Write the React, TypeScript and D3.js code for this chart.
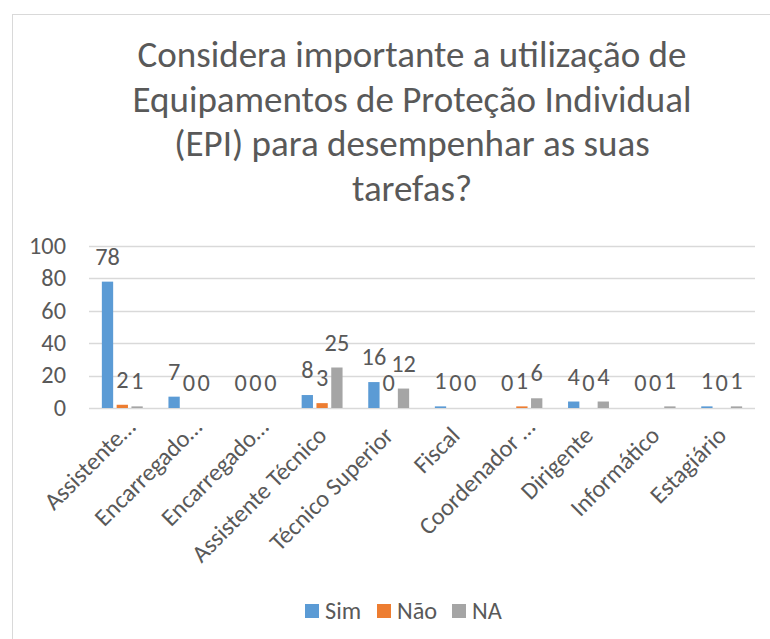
import React from "react";
import * as d3 from "d3";

const titleLines = [
  "Considera importante a utilização de",
  "Equipamentos de Proteção Individual",
  "(EPI) para desempenhar as suas",
  "tarefas?",
];
const categories = [
  "Assistente…",
  "Encarregado…",
  "Encarregado… ",
  "Assistente Técnico",
  "Técnico Superior",
  "Fiscal",
  "Coordenador …",
  "Dirigente",
  "Informático",
  "Estagiário",
];
const seriesNames = ["Sim", "Não", "NA"];
const simValues = [78, 7, 0, 8, 16, 1, 0, 4, 0, 1];
const naoValues = [2, 0, 0, 3, 0, 0, 1, 0, 0, 0];
const naValues = [1, 0, 0, 25, 12, 0, 6, 4, 1, 1];
const yTicks = [0, 20, 40, 60, 80, 100];
const colors = ["#5B9BD5", "#ED7D31", "#A5A5A5"];

const W = 770;
const H = 639;
const FONT = "Carlito, Calibri, Lato, sans-serif";
const TXT = "#595959";
const FS = 24.3;

export default function App() {
  const series = [simValues, naoValues, naValues];
  const x0 = d3.scaleBand<string>().domain(categories).range([89, 755]);
  const x1 = d3
    .scaleBand<string>()
    .domain(seriesNames)
    .range([-20.45, 20.45])
    .paddingInner(0.236);
  const y = d3.scaleLinear().domain([0, 100]).range([408, 246]);

  return (
    <svg
      width={W}
      height={H}
      style={{ position: "absolute", left: 0, top: 0, background: "#fff" }}
      fontFamily={FONT}
    >
      <rect x={12.5} y={14.5} width={900} height={700} fill="#fff" stroke="#D9D9D9" strokeWidth={1} />
      {titleLines.map((t, i) => (
        <text key={i} x={412} y={67 + i * 44.5} textAnchor="middle" fontSize={37} fill={TXT}>
          {t}
        </text>
      ))}
      {yTicks.map((t) => (
        <g key={t}>
          <line x1={89} x2={755} y1={Math.round(y(t)) + 0.5} y2={Math.round(y(t)) + 0.5} stroke="#D9D9D9" strokeWidth={1.3} />
          <text x={66} y={y(t)} dy="0.32em" textAnchor="end" fontSize={FS} fill={TXT}>
            {t}
          </text>
        </g>
      ))}
      {categories.map((c, ci) => {
        const cx = (x0(c) as number) + x0.bandwidth() / 2;
        const truncated = c.trim().endsWith("…");
        return (
          <g key={ci}>
            {series.map((vals, si) => {
              const bx = cx + (x1(seriesNames[si]) as number);
              const bw = x1.bandwidth();
              const v = vals[ci];
              return (
                <g key={si}>
                  <rect x={bx} y={y(v)} width={bw} height={y(0) - y(v)} fill={colors[si]} />
                  <text x={bx + bw / 2} y={y(v) - 17} textAnchor="middle" fontSize={FS} fill={TXT}>
                    {v}
                  </text>
                </g>
              );
            })}
            <text
              transform={`translate(${cx + 6},${437}) rotate(-45)`}
              dx={truncated ? 12 : 0}
              textAnchor="end"
              fontSize={FS}
              fill={TXT}
            >
              {c.trim()}
            </text>
          </g>
        );
      })}
      {seriesNames.map((s, i) => {
        const lx = [305, 377, 452][i];
        return (
          <g key={s}>
            <rect x={lx} y={604} width={14} height={14} fill={colors[i]} />
            <text x={lx + 20} y={618.5} fontSize={FS} fill={TXT}>
              {s}
            </text>
          </g>
        );
      })}
    </svg>
  );
}
